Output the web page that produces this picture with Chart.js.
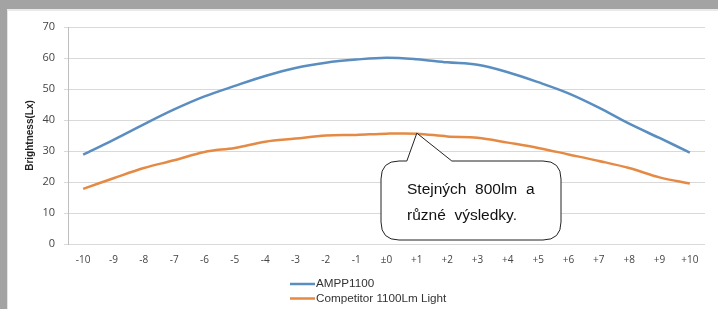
<!DOCTYPE html>
<html><head><meta charset="utf-8">
<script src="https://cdn.jsdelivr.net/npm/chart.js@4/dist/chart.umd.min.js"></script>
<style>
html,body{margin:0;padding:0;width:718px;height:309px;overflow:hidden;background:#a3a3a3;}
#panel{position:absolute;left:7px;top:9px;width:711px;height:300px;background:#fff;border-left:1px solid #e4e4e4;border-top:2px solid #e9e9e9;box-sizing:border-box;}
#wrap{position:absolute;left:0;top:0;width:718px;height:309px;}
</style></head>
<body>
<div id="panel"></div>
<div id="wrap"><canvas id="c" width="718" height="309"></canvas></div>
<script>
const categories = ['-10','-9','-8','-7','-6','-5','-4','-3','-2','-1','±0','+1','+2','+3','+4','+5','+6','+7','+8','+9','+10'];
const seriesNames = ['AMPP1100','Competitor 1100Lm Light'];
const ampp = [28.8,33.6,38.6,43.4,47.6,51.0,54.2,56.8,58.5,59.5,60.1,59.6,58.6,57.8,55.4,52.2,48.6,44.0,38.8,34.2,29.5];
const competitor = [17.8,21.2,24.5,27.0,29.7,31.0,33.0,34.0,35.0,35.2,35.6,35.6,34.7,34.3,32.7,31.0,28.9,26.8,24.5,21.5,19.5];
const yTicks = {min:0, max:70, step:10};
const calloutLines = ['Stejných  800lm  a','různé  výsledky.'];

const colors = ['#5a8ec1','#e58a45'];

const extras = {
  id:'extras',
  afterDraw(chart){
    const ctx = chart.ctx;
    const x = chart.scales.x, y = chart.scales.y;
    // legend
    ctx.save();
    ctx.font = '11.7px "Liberation Sans", Arial, sans-serif';
    ctx.fillStyle = '#333';
    ctx.textBaseline = 'middle';
    const lx = 290, ly = [284, 298.5];
    seriesNames.forEach((n,i)=>{
      ctx.strokeStyle = colors[i]; ctx.lineWidth = 2.5;
      ctx.beginPath(); ctx.moveTo(lx, ly[i]); ctx.lineTo(lx+25, ly[i]); ctx.stroke();
      ctx.fillText(n, lx+26, ly[i]);
    });
    // callout
    const tipX = x.getPixelForValue(11);
    const tipY = y.getPixelForValue(competitor[11]) - 0.5;
    const bx = 381, by = 161, bw = 180, bh = 79, r = 18;
    ctx.beginPath();
    ctx.moveTo(bx + r, by);
    ctx.lineTo(tipX - 10, by);
    ctx.lineTo(tipX, tipY);
    ctx.lineTo(tipX + 35, by);
    ctx.lineTo(bx + bw - r, by);
    ctx.quadraticCurveTo(bx + bw, by, bx + bw, by + r);
    ctx.lineTo(bx + bw, by + bh - r);
    ctx.quadraticCurveTo(bx + bw, by + bh, bx + bw - r, by + bh);
    ctx.lineTo(bx + r, by + bh);
    ctx.quadraticCurveTo(bx, by + bh, bx, by + bh - r);
    ctx.lineTo(bx, by + r);
    ctx.quadraticCurveTo(bx, by, bx + r, by);
    ctx.closePath();
    ctx.fillStyle = '#fff'; ctx.fill();
    ctx.strokeStyle = '#222'; ctx.lineWidth = 1; ctx.stroke();
    ctx.fillStyle = '#111';
    ctx.font = '15.5px "Liberation Sans", Arial, sans-serif';
    ctx.textBaseline = 'middle';
    ctx.textAlign = 'left';
    ctx.fillText(calloutLines[0], 407, 190);
    ctx.fillText(calloutLines[1], 407, 216);
    ctx.restore();
  }
};

new Chart(document.getElementById('c'), {
  type:'line',
  data:{
    labels:categories,
    datasets:[
      {label:seriesNames[0], data:ampp, borderColor:colors[0], borderWidth:2.5, pointRadius:0, tension:0.35, fill:false},
      {label:seriesNames[1], data:competitor, borderColor:colors[1], borderWidth:2.5, pointRadius:0, tension:0.35, fill:false}
    ]
  },
  options:{
    responsive:false, animation:false, devicePixelRatio:1,
    layout:{padding:{left:24, top:27, right:13, bottom:0}},
    plugins:{legend:{display:false}, tooltip:{enabled:false}},
    scales:{
      x:{
        offset:true,
        grid:{display:false, drawTicks:false},
        border:{display:false},
        ticks:{color:'#444', font:{family:'"Open Sans", sans-serif', size:10}, padding:10, maxRotation:0, autoSkip:false},
        afterFit(s){ s.height = 65; }
      },
      y:{
        min:yTicks.min, max:yTicks.max,
        grid:{color:'#d9d9d9', lineWidth:1, tickLength:4},
        border:{color:'#bfbfbf'},
        ticks:{stepSize:yTicks.step, color:'#444', font:{family:'"Open Sans", sans-serif', size:11}, padding:9},
        title:{display:true, text:'Brightness(Lx)', color:'#222', font:{family:'"Liberation Sans", Arial, sans-serif', size:10, weight:'bold'}, padding:{top:0,bottom:0}},
        afterFit(s){ s.width = 44; }
      }
    }
  },
  plugins:[extras]
});
</script>
</body></html>
